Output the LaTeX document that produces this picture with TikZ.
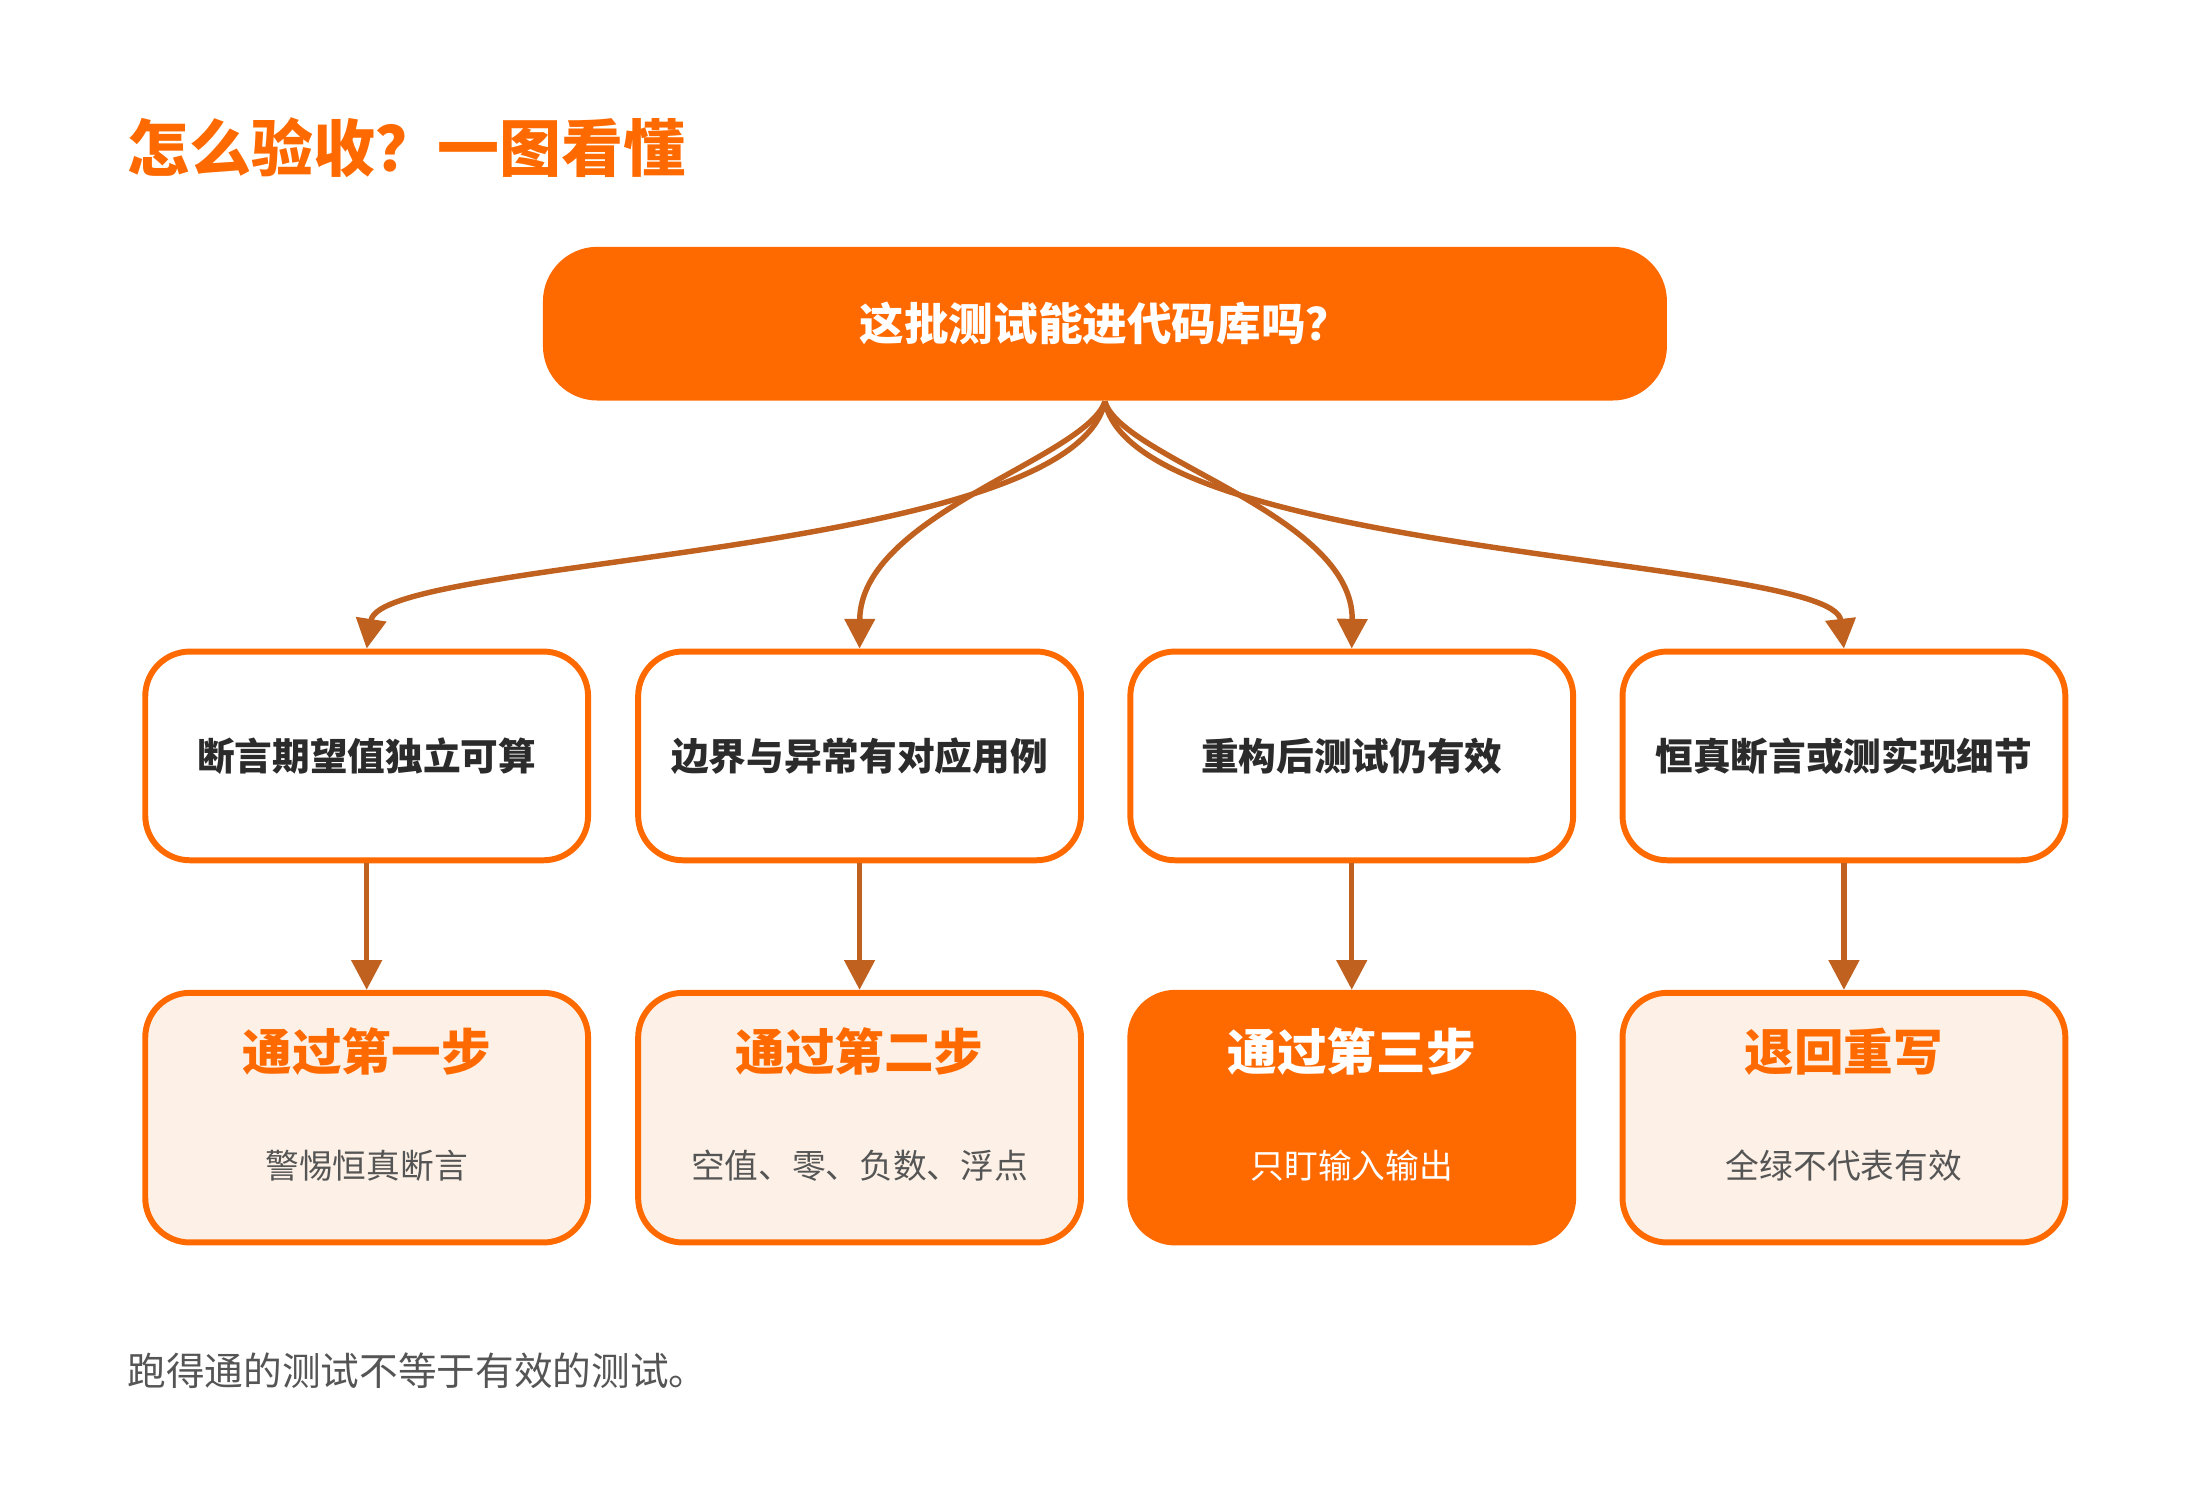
\documentclass[tikz,border=0pt]{standalone}
\usepackage{fontspec}
\setmainfont{Noto Sans CJK SC}
\usetikzlibrary{positioning}
\definecolor{orng}{HTML}{FF6A00}
\definecolor{brwn}{HTML}{C0611F}
\definecolor{pale}{HTML}{FDF1E7}
\definecolor{ink}{HTML}{2B2B2B}
\definecolor{gry}{HTML}{555555}
\tikzset{
  check/.style={draw=orng, line width=1.2pt, rounded corners=9pt, fill=white, minimum width=3.14cm, minimum height=1.48cm, font=\fontsize{7.6}{9}\selectfont\bfseries, text=ink},
  result/.style={draw=orng, line width=1.2pt, rounded corners=9pt, fill=pale, minimum width=3.14cm, minimum height=1.77cm},
  flow/.style={->, >={Triangle[width=6pt,length=6pt]}, draw=brwn, line width=1.1pt},
}
\usetikzlibrary{arrows.meta}
\begin{document}
\begin{tikzpicture}
    \useasboundingbox (0,0) rectangle (15.6,10.55);
    \node[anchor=west, text=orng, font=\fontsize{12.5}{14}\selectfont\bfseries] (title) at (0.78,9.5) {怎么验收？一图看懂};

    \node[fill=orng, rounded corners=11pt, minimum width=7.97cm, minimum height=1.09cm, text=white, font=\fontsize{9}{11}\selectfont\bfseries] (Q) at (7.835,8.255) {这批测试能进代码库吗？};

    \node[check] (C1) at (2.6,5.19) {断言期望值独立可算};
    \node[check] (C2) at (6.095,5.19) {边界与异常有对应用例};
    \node[check] (C3) at (9.585,5.19) {重构后测试仍有效};
    \node[check] (C4) at (13.075,5.19) {恒真断言或测实现细节};

    \node[result] (R1) at (2.6,2.625) {};
    \node[result] (R2) at (6.095,2.625) {};
    \node[result, fill=orng] (R3) at (9.585,2.625) {};
    \node[result] (R4) at (13.075,2.625) {};

    % texts inside the result boxes
    \foreach \n/\head/\sub in {R1/通过第一步/警惕恒真断言, R2/通过第二步/空值、零、负数、浮点, R4/退回重写/全绿不代表有效}{
        \node[text=orng, font=\fontsize{10}{12}\selectfont\bfseries] at ([yshift=0.47cm]\n.center) {\head};
        \node[text=gry, font=\fontsize{6.8}{8}\selectfont] at ([yshift=-0.34cm]\n.center) {\sub};
    }
    \node[text=white, font=\fontsize{10}{12}\selectfont\bfseries] at ([yshift=0.47cm]R3.center) {通过第三步};
    \node[text=white, font=\fontsize{6.8}{8}\selectfont] at ([yshift=-0.34cm]R3.center) {只盯输入输出};

    \draw[flow] (Q.south) .. controls (7.6,6.6) and (2.7,6.6) .. (C1.north);
    \draw[flow] (Q.south) .. controls (7.7,7.3) and (6.1,6.9) .. (C2.north);
    \draw[flow] (Q.south) .. controls (7.95,7.3) and (9.6,6.9) .. (C3.north);
    \draw[flow] (Q.south) .. controls (8.05,6.6) and (13.0,6.6) .. (C4.north);

    \foreach \i in {1,...,4}
        \draw[flow] (C\i.south) -- (R\i.north);

    \node[anchor=west, text=gry, font=\fontsize{7.8}{9}\selectfont] (note) at (0.78,0.83) {跑得通的测试不等于有效的测试。};
\end{tikzpicture}
\end{document}
